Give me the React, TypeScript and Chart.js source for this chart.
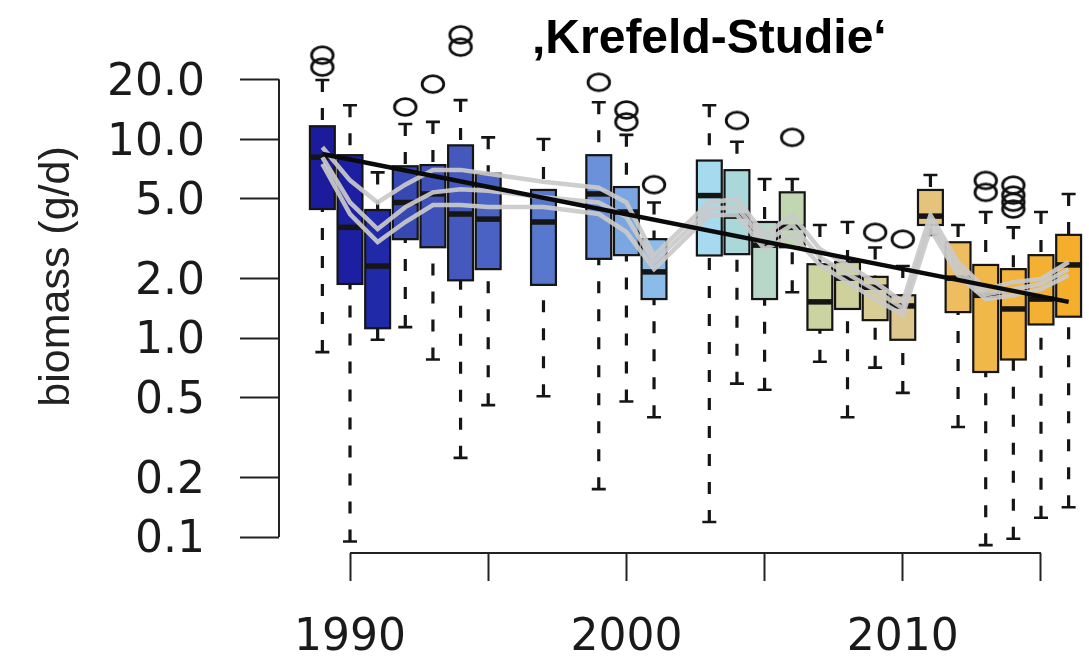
import React, { useEffect, useRef } from 'react';
import { Chart, registerables } from 'chart.js';

Chart.register(...registerables);

// ---- data ----
const YEARS = [1989, 1990, 1991, 1992, 1993, 1994, 1995, 1997, 1999, 2000, 2001, 2003, 2004, 2005, 2006, 2007, 2008, 2009, 2010, 2011, 2012, 2013, 2014, 2015, 2016];
const WHISKER_LOW = [0.85, 0.095, 0.98, 1.135, 0.78, 0.25, 0.46, 0.51, 0.174, 0.48, 0.40, 0.119, 0.59, 0.55, 1.7, 0.76, 0.40, 0.71, 0.53, 3.3, 0.357, 0.091, 0.098, 0.125, 0.141];
const Q1 = [4.45, 1.87, 1.12, 3.14, 2.86, 1.95, 2.22, 1.85, 2.5, 2.61, 1.57, 2.6, 2.64, 1.57, 2.86, 1.10, 1.40, 1.23, 0.98, 3.7, 1.35, 0.675, 0.78, 1.17, 1.28];
const MEDIAN = [8.1, 3.6, 2.3, 4.8, 5.3, 4.2, 3.96, 3.83, 5.3, 4.3, 2.15, 5.2, 4.1, 2.93, 3.6, 1.52, 2.0, 1.8, 1.45, 4.1, 2.0, 1.64, 1.40, 1.57, 2.33];
const Q3 = [11.6, 8.3, 4.4, 7.3, 7.4, 9.3, 6.7, 5.55, 8.3, 5.74, 3.14, 7.8, 6.98, 3.83, 5.4, 2.35, 2.41, 2.03, 1.64, 5.55, 3.03, 2.33, 2.22, 2.61, 3.3];
const WHISKER_HIGH = [19.8, 14.8, 6.8, 11.9, 12.2, 15.7, 10.2, 10.0, 15.3, 10.5, 4.8, 14.8, 9.7, 6.3, 6.3, 3.7, 3.83, 2.85, 2.3, 6.6, 3.7, 4.3, 3.6, 4.3, 5.3];
const BOX_COLORS = ['#1b1b9c', '#1c1fa2', '#2029a8', '#3848b2', '#3e51b8', '#4458bd', '#4a62c3', '#5878cd', '#6b91da', '#7aa6e2', '#8abbe9', '#a6daee', '#aad7da', '#b7d7c8', '#c0d7b2', '#cbd4a0', '#cfd19c', '#d7cd95', '#ddc78e', '#e6c37a', '#edbd60', '#f0b848', '#f2b43e', '#f3b032', '#f4ae2c'];

const OUTLIER_YEARS = [1989, 1989, 1992, 1993, 1994, 1994, 1999, 2000, 2000, 2001, 2004, 2006, 2009, 2010, 2013, 2013, 2014, 2014, 2014, 2014];
const OUTLIER_VALUES = [26.4, 23.0, 14.5, 18.9, 33.4, 29.0, 19.3, 14.0, 12.2, 5.9, 12.4, 10.2, 3.4, 3.14, 6.2, 5.4, 5.87, 5.23, 4.82, 4.45];

const GRAY_LINE_1 = [9.1, 6.2, 4.8, 5.9, 7.0, 7.0, 6.7, 6.1, 5.7, 4.8, 2.6, 4.8, 5.0, 3.3, 4.15, 2.8, 2.33, 1.91, 1.52, 4.15, 2.41, 1.76, 1.91, 1.98, 2.41];
const GRAY_LINE_2 = [8.1, 4.8, 3.53, 4.55, 5.4, 5.6, 5.5, 5.1, 4.8, 4.06, 2.41, 4.45, 4.55, 3.04, 3.7, 2.55, 2.1, 1.74, 1.41, 3.83, 2.22, 1.66, 1.76, 1.87, 2.22];
const GRAY_LINE_3 = [7.5, 4.2, 3.04, 3.83, 4.66, 4.66, 4.55, 4.55, 4.2, 3.41, 2.22, 4.15, 4.15, 2.8, 3.3, 2.33, 1.91, 1.57, 1.31, 3.53, 2.07, 1.57, 1.64, 1.76, 2.07];

const TREND_YEARS = [1989, 2016];
const TREND_VALUES = [8.41, 1.52];

const Y_TICKS = [0.1, 0.2, 0.5, 1, 2, 5, 10, 20];
const Y_TICK_LABELS = ['0.1', '0.2', '0.5', '1.0', '2.0', '5.0', '10.0', '20.0'];
const X_TICKS = [1990, 1995, 2000, 2005, 2010, 2015];
const X_TICK_LABELS = ['1990', '', '2000', '', '2010', ''];

const TITLE = '\u201AKrefeld-Studie\u2018';
const Y_TITLE = 'biomass (g/d)';

function makeEllipse(): HTMLCanvasElement {
  const c = document.createElement('canvas');
  c.width = 28;
  c.height = 24;
  const g = c.getContext('2d')!;
  g.strokeStyle = '#111';
  g.lineWidth = 2.8;
  g.beginPath();
  g.ellipse(14, 12, 10.8, 8.4, 0, 0, Math.PI * 2);
  g.stroke();
  return c;
}

const boxPlugin = {
  id: 'boxplots',
  beforeDatasetsDraw(chart: any) {
    const { ctx } = chart;
    const x = chart.scales.x;
    const y = chart.scales.y;
    ctx.save();
    for (let i = 0; i < YEARS.length; i++) {
      const cx = x.getPixelForValue(YEARS[i]);
      const left = x.getPixelForValue(YEARS[i] - 0.45);
      const right = x.getPixelForValue(YEARS[i] + 0.45);
      const yLo = y.getPixelForValue(WHISKER_LOW[i]);
      const yQ1 = y.getPixelForValue(Q1[i]);
      const yMed = y.getPixelForValue(MEDIAN[i]);
      const yQ3 = y.getPixelForValue(Q3[i]);
      const yHi = y.getPixelForValue(WHISKER_HIGH[i]);
      // whiskers
      ctx.strokeStyle = '#151515';
      ctx.lineWidth = 3.2;
      ctx.setLineDash([12, 16]);
      ctx.beginPath();
      ctx.moveTo(cx, yHi);
      ctx.lineTo(cx, yQ3);
      ctx.moveTo(cx, yLo);
      ctx.lineTo(cx, yQ1);
      ctx.stroke();
      ctx.setLineDash([]);
      ctx.lineWidth = 2.6;
      ctx.beginPath();
      ctx.moveTo(cx - 7, yHi);
      ctx.lineTo(cx + 7, yHi);
      ctx.moveTo(cx - 7, yLo);
      ctx.lineTo(cx + 7, yLo);
      ctx.stroke();
      // box
      ctx.fillStyle = BOX_COLORS[i];
      ctx.fillRect(left, yQ3, right - left, yQ1 - yQ3);
      ctx.lineWidth = 2.2;
      ctx.strokeStyle = '#151515';
      ctx.strokeRect(left, yQ3, right - left, yQ1 - yQ3);
      // median
      ctx.lineWidth = 5.5;
      ctx.beginPath();
      ctx.moveTo(left, yMed);
      ctx.lineTo(right, yMed);
      ctx.stroke();
    }
    ctx.restore();
  },
  afterDraw(chart: any) {
    const { ctx, chartArea } = chart;
    const x = chart.scales.x;
    const y = chart.scales.y;
    ctx.save();
    ctx.strokeStyle = '#222';
    ctx.lineWidth = 2;
    ctx.beginPath();
    ctx.moveTo(chartArea.left, y.getPixelForValue(Y_TICKS[0]));
    ctx.lineTo(chartArea.left, y.getPixelForValue(Y_TICKS[Y_TICKS.length - 1]));
    ctx.moveTo(x.getPixelForValue(X_TICKS[0]), chartArea.bottom);
    ctx.lineTo(x.getPixelForValue(X_TICKS[X_TICKS.length - 1]), chartArea.bottom);
    ctx.stroke();
    ctx.restore();
  },
};

export default function App() {
  const ref = useRef<HTMLCanvasElement | null>(null);

  useEffect(() => {
    document.body.style.margin = '0';
    const canvas = ref.current;
    if (!canvas) return;
    const ellipse = makeEllipse();
    const toPoints = (xs: number[], ys: number[]) => xs.map((v, i) => ({ x: v, y: ys[i] }));
    const grayStyle = {
      showLine: true,
      borderColor: 'rgba(202,202,202,0.92)',
      borderWidth: 4.5,
      pointRadius: 0,
      fill: false,
      order: 2,
    };
    const chart = new Chart(canvas, {
      type: 'scatter',
      data: {
        datasets: [
          {
            label: 'outliers',
            data: toPoints(OUTLIER_YEARS, OUTLIER_VALUES),
            pointStyle: ellipse as any,
            pointRadius: 12,
            order: 3,
            clip: false,
          } as any,
          { label: 'g1', data: toPoints(YEARS, GRAY_LINE_1), ...grayStyle },
          { label: 'g2', data: toPoints(YEARS, GRAY_LINE_2), ...grayStyle },
          { label: 'g3', data: toPoints(YEARS, GRAY_LINE_3), ...grayStyle },
          {
            label: 'trend',
            data: toPoints(TREND_YEARS, TREND_VALUES),
            showLine: true,
            borderColor: '#0a0a0a',
            borderWidth: 4.5,
            pointRadius: 0,
            order: 1,
          },
        ],
      },
      options: {
        animation: false,
        responsive: false,
        devicePixelRatio: 1,
        events: [],
        layout: { padding: 0, autoPadding: false },
        plugins: {
          legend: { display: false },
          tooltip: { enabled: false },
          title: { display: false },
        },
        scales: {
          x: {
            type: 'linear',
            min: 1987.431,
            max: 2016.737,
            afterBuildTicks: (s: any) => {
              s.ticks = X_TICKS.map((v) => ({ value: v }));
            },
            afterFit: (s: any) => {
              s.height = 106;
              s.paddingLeft = 0;
              s.paddingRight = 0;
            },
            ticks: {
              autoSkip: false,
              maxRotation: 0,
              minRotation: 0,
              padding: 31,
              color: '#1a1a1a',
              font: { family: 'DejaVu Sans', size: 44 },
              callback: (v: any) => {
                const k = X_TICKS.indexOf(Number(v));
                return k >= 0 ? X_TICK_LABELS[k] : '';
              },
            },
            grid: { drawOnChartArea: false, drawTicks: true, tickLength: 28, tickWidth: 2, tickColor: '#222' },
            border: { display: false },
          },
          y: {
            type: 'logarithmic',
            min: 0.0831,
            max: 50,
            afterBuildTicks: (s: any) => {
              s.ticks = Y_TICKS.map((v) => ({ value: v }));
            },
            afterFit: (s: any) => {
              s.width = 279;
              s.paddingTop = 0;
              s.paddingBottom = 0;
            },
            ticks: {
              autoSkip: false,
              padding: 35,
              labelOffset: 4,
              color: '#1a1a1a',
              font: { family: 'DejaVu Sans', size: 44 },
              callback: (v: any) => {
                const k = Y_TICKS.indexOf(Number(v));
                return k >= 0 ? Y_TICK_LABELS[k] : '';
              },
            },
            grid: { drawOnChartArea: false, drawTicks: true, tickLength: 39, tickWidth: 2, tickColor: '#222' },
            border: { display: false },
            title: {
              display: true,
              text: Y_TITLE,
              color: '#222',
              font: { family: 'Liberation Sans', size: 43 },
              padding: { top: 31, bottom: 0 },
            },
          },
        },
      } as any,
      plugins: [boxPlugin],
    });
    return () => chart.destroy();
  }, []);

  return (
    <div style={{ position: 'relative', width: 1089, height: 659, background: '#fff', overflow: 'hidden' }}>
      <canvas ref={ref} width={1089} height={659} style={{ display: 'block', width: 1089, height: 659 }} />
      <div
        style={{
          position: 'absolute',
          left: 532,
          top: 13,
          fontFamily: '"Liberation Sans", Arial, sans-serif',
          fontWeight: 'bold',
          fontSize: 48,
          lineHeight: 1,
          color: '#000',
          whiteSpace: 'nowrap',
        }}
      >
        {TITLE}
      </div>
    </div>
  );
}
